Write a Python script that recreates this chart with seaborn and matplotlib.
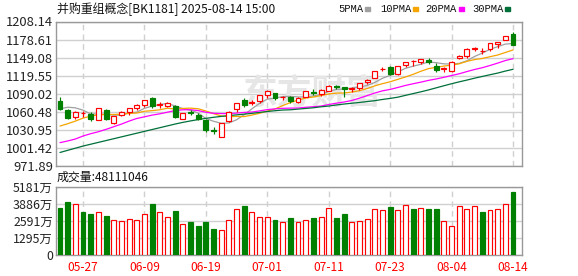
import numpy as np
import pandas as pd
import matplotlib
matplotlib.use("Agg")
import matplotlib.pyplot as plt
import seaborn as sns
from matplotlib.patches import Rectangle

# ---------------- data ----------------
dates = ["05-22", "05-23", "05-26", "05-27", "05-28", "05-29", "05-30", "06-03", "06-04", "06-05",
         "06-06", "06-09", "06-10", "06-11", "06-12", "06-13", "06-16", "06-17", "06-18", "06-19",
         "06-20", "06-23", "06-24", "06-25", "06-26", "06-27", "06-30", "07-01", "07-02", "07-03",
         "07-04", "07-07", "07-08", "07-09", "07-10", "07-11", "07-14", "07-15", "07-16", "07-17",
         "07-18", "07-21", "07-22", "07-23", "07-24", "07-25", "07-28", "07-29", "07-30", "07-31",
         "08-01", "08-04", "08-05", "08-06", "08-07", "08-08", "08-11", "08-12", "08-13", "08-14"]

opens = [1077.8, 1064.2, 1052.3, 1058.5, 1057.2, 1047.4, 1064.2, 1042.0, 1055.1, 1059.4,
         1067.0, 1071.9, 1083.3, 1072.0, 1069.7, 1070.3, 1049.0, 1059.8, 1055.3, 1047.7,
         1030.0, 1020.0, 1044.7, 1064.4, 1079.6, 1075.5, 1077.8, 1087.6, 1090.8, 1084.0,
         1084.4, 1076.7, 1085.5, 1093.5, 1089.9, 1095.3, 1102.0, 1100.8, 1097.5, 1098.6,
         1108.9, 1115.8, 1130.0, 1134.2, 1122.8, 1137.4, 1143.5, 1141.3, 1145.7, 1134.8,
         1130.0, 1127.7, 1147.8, 1152.2, 1163.0, 1159.8, 1163.0, 1172.0, 1178.4, 1188.1]
highs = [1085.4, 1065.5, 1061.0, 1061.7, 1060.5, 1066.5, 1065.5, 1054.0, 1061.5, 1067.5,
         1072.5, 1080.5, 1084.0, 1076.8, 1077.0, 1072.0, 1059.0, 1063.0, 1058.0, 1048.0,
         1035.7, 1042.5, 1062.0, 1075.5, 1083.0, 1080.0, 1088.0, 1096.0, 1092.0, 1087.0,
         1087.0, 1084.0, 1095.0, 1097.0, 1097.0, 1104.0, 1105.0, 1101.5, 1101.0, 1108.0,
         1114.0, 1127.0, 1133.7, 1136.0, 1136.0, 1142.0, 1144.5, 1147.0, 1148.0, 1141.0,
         1134.5, 1143.0, 1153.0, 1164.0, 1166.3, 1164.7, 1173.5, 1174.5, 1184.0, 1190.3]
lows = [1063.7, 1049.5, 1048.0, 1051.8, 1045.2, 1046.5, 1047.5, 1041.0, 1054.0, 1055.0,
        1064.0, 1068.0, 1067.0, 1067.0, 1068.0, 1050.5, 1048.0, 1055.0, 1047.0, 1028.0,
        1024.8, 1020.0, 1044.0, 1060.0, 1068.0, 1071.9, 1074.6, 1083.0, 1079.0, 1079.0,
        1075.0, 1075.0, 1084.0, 1088.0, 1086.0, 1094.0, 1097.0, 1084.5, 1093.0, 1096.0,
        1106.0, 1115.0, 1126.6, 1120.0, 1121.0, 1134.0, 1134.8, 1138.0, 1138.0, 1125.6,
        1125.0, 1126.0, 1147.0, 1149.0, 1160.0, 1155.0, 1160.0, 1164.8, 1178.0, 1169.0]
closes = [1065.3, 1050.7, 1060.5, 1059.3, 1048.5, 1065.9, 1048.5, 1052.9, 1059.4, 1067.0,
          1071.9, 1080.0, 1070.8, 1073.0, 1074.6, 1051.8, 1058.3, 1058.5, 1048.8, 1030.3,
          1029.0, 1042.3, 1060.5, 1075.2, 1071.9, 1077.0, 1087.6, 1094.1, 1083.8, 1085.0,
          1077.8, 1083.3, 1094.2, 1092.0, 1096.4, 1102.4, 1101.0, 1097.0, 1099.0, 1107.3,
          1112.7, 1126.6, 1131.0, 1122.8, 1135.8, 1141.8, 1144.0, 1146.7, 1141.9, 1129.4,
          1132.5, 1142.4, 1152.2, 1163.0, 1165.0, 1160.0, 1173.0, 1174.0, 1183.8, 1170.2]

# volume in 万 (10k)
volumes = [3539, 4037, 3838, 3289, 3090, 3289, 2991, 2666, 2591, 2741,
           2666, 3139, 3838, 3289, 2916, 3364, 2317, 2492, 2168, 2492,
           1943, 1919, 2666, 3514, 3688, 3289, 2916, 2916, 2692, 2492,
           2791, 2467, 2692, 2791, 2916, 3589, 2791, 3090, 2467, 2617,
           2766, 3514, 3439, 3614, 3439, 3813, 3514, 3589, 3514, 3464,
           2542, 2168, 3738, 3514, 3738, 3240, 3439, 3514, 3888, 4811.1]
vol_rise = [0, 0, 1, 0, 0, 1, 0, 1, 1, 1,
            1, 1, 0, 1, 1, 0, 1, 0, 0, 0,
            0, 1, 1, 1, 0, 1, 1, 1, 0, 1,
            0, 1, 1, 0, 1, 1, 0, 0, 1, 1,
            1, 1, 1, 0, 1, 1, 0, 1, 0, 0,
            1, 1, 1, 1, 1, 0, 1, 1, 1, 0]

ma5 = [1065.3, 1068.0, 1067.0, 1063.2, 1056.9, 1057.0, 1056.5, 1055.0, 1055.0, 1058.7,
       1059.9, 1066.2, 1069.8, 1072.5, 1074.1, 1070.0, 1065.7, 1063.2, 1058.4, 1049.5,
       1045.0, 1041.8, 1042.2, 1047.5, 1055.8, 1065.4, 1074.4, 1081.2, 1082.9, 1085.5,
       1085.7, 1084.8, 1084.8, 1086.5, 1088.7, 1093.7, 1097.2, 1097.8, 1099.2, 1101.3,
       1103.4, 1108.5, 1115.3, 1120.1, 1125.8, 1131.6, 1135.1, 1138.2, 1142.0, 1140.8,
       1138.9, 1138.6, 1139.7, 1143.9, 1151.0, 1156.5, 1162.6, 1167.0, 1171.2, 1172.2]
ma10 = [1037.2, 1041.0, 1045.3, 1050.2, 1053.4, 1055.6, 1056.1, 1056.1, 1056.7, 1057.8,
        1058.5, 1061.4, 1062.4, 1063.8, 1066.4, 1065.0, 1066.0, 1066.5, 1065.5, 1061.8,
        1057.5, 1053.7, 1052.7, 1052.9, 1052.7, 1055.2, 1058.1, 1061.7, 1065.2, 1070.6,
        1075.5, 1079.6, 1083.0, 1084.7, 1087.1, 1089.7, 1091.0, 1091.3, 1092.8, 1095.0,
        1098.5, 1102.9, 1106.5, 1109.6, 1113.6, 1117.5, 1121.8, 1126.8, 1131.1, 1133.3,
        1135.3, 1136.8, 1139.0, 1143.0, 1145.9, 1147.7, 1150.6, 1153.3, 1157.5, 1161.6]
ma20 = [1010.1, 1012.8, 1016.0, 1020.9, 1024.7, 1027.9, 1031.8, 1036.1, 1040.4, 1045.3,
        1049.6, 1052.3, 1055.1, 1057.2, 1059.9, 1062.6, 1063.8, 1063.9, 1062.5, 1059.8,
        1058.0, 1057.6, 1057.6, 1058.4, 1059.5, 1060.1, 1062.0, 1064.1, 1065.3, 1066.2,
        1066.5, 1066.7, 1067.9, 1068.8, 1069.9, 1072.4, 1074.6, 1076.5, 1079.0, 1082.8,
        1087.0, 1091.2, 1094.8, 1097.1, 1100.3, 1103.6, 1106.4, 1109.0, 1111.9, 1114.2,
        1116.9, 1119.8, 1122.7, 1126.3, 1129.7, 1132.6, 1136.2, 1140.1, 1144.3, 1147.4]
ma30 = [994.0, 997.5, 1001.0, 1004.5, 1007.5, 1010.5, 1013.5, 1016.5, 1019.5, 1022.5,
        1025.5, 1028.5, 1031.5, 1034.5, 1037.5, 1040.5, 1043.2, 1045.6, 1047.8, 1049.8,
        1051.5, 1053.0, 1054.3, 1055.5, 1056.7, 1058.0, 1059.5, 1061.0, 1062.3, 1063.4,
        1063.8, 1064.9, 1066.0, 1067.1, 1068.7, 1069.9, 1071.7, 1073.2, 1074.5, 1075.8,
        1077.2, 1078.7, 1080.7, 1082.4, 1084.4, 1087.4, 1090.3, 1093.2, 1096.3, 1099.7,
        1103.1, 1106.4, 1109.5, 1112.4, 1115.5, 1118.3, 1121.1, 1123.8, 1127.1, 1130.0]

x_tick_labels = ["05-27", "06-09", "06-19", "07-01", "07-11", "07-23", "08-04", "08-14"]
price_ticks = [971.89, 1001.42, 1030.95, 1060.48, 1090.02, 1119.55, 1149.08, 1178.61, 1208.14]
vol_ticks = [0, 1295.3, 2590.6, 3885.9, 5181.2]
vol_tick_labels = ["0", "1295万", "2591万", "3886万", "5181万"]
title = "并购重组概念[BK1181] 2025-08-14 15:00"
vol_title = "成交量:48111046"
ma_names = ["5PMA", "10PMA", "20PMA", "30PMA"]

# ---------------- style ----------------
sns.set_theme(style="white")
plt.rcParams['font.family'] = ['Noto Sans CJK SC', 'DejaVu Sans']

RED = "#ff0000"
GREEN = "#008000"
ma_colors = {"5PMA": "#a0a0a0", "10PMA": "#f5a400", "20PMA": "#ff00ff", "30PMA": "#00703a"}
GRID = "#d0d0d0"
SPINE = "#999999"
TXT = "#222222"

W, H = 578, 276
fig = plt.figure(figsize=(W / 100, H / 100), dpi=100)
fig.patch.set_facecolor("white")


def fx(px):
    return px / W


def fy(py):
    return 1 - py / H


ax = fig.add_axes([fx(56), fy(166), fx(522) - fx(56), fy(21.5) - fy(166)])
axv = fig.add_axes([fx(56), fy(255), fx(522) - fx(56), fy(186.7) - fy(255)])

n = len(dates)
xs = np.arange(n)
pos = [dates.index(d) for d in x_tick_labels]

# watermark
ax.text(fx(312), fy(93), "东方财富", transform=fig.transFigure, fontsize=25,
        color="#e6e6e6", ha="center", va="center", zorder=0.6, fontweight="bold")

# moving averages through seaborn
df = pd.DataFrame({
    "x": np.tile(xs, 4),
    "v": np.concatenate([ma5, ma10, ma20, ma30]),
    "ma": np.repeat(ma_names, n),
})
sns.lineplot(data=df, x="x", y="v", hue="ma", palette=ma_colors, ax=ax,
             legend=False, linewidth=0.9, zorder=2, estimator=None)

# candles
o = np.array(opens)
c = np.array(closes)
up = c >= o
body_bottom = np.minimum(o, c)
body_h = np.maximum(np.abs(c - o), 0.45)
edge = [RED if u else GREEN for u in up]
face = ["white" if u else GREEN for u in up]
ax.vlines(xs, lows, highs, colors=edge, linewidth=0.85, zorder=3)
ax.bar(xs, body_h, bottom=body_bottom, width=0.64, color=face, edgecolor=edge,
       linewidth=0.85, zorder=4)

# volume
vr = np.array(vol_rise).astype(bool)
axv.bar(xs, volumes, width=0.64,
        color=["white" if r else GREEN for r in vr],
        edgecolor=[RED if r else GREEN for r in vr], linewidth=0.85, zorder=3)

# axes styling
for a in (ax, axv):
    a.set_xlim(-0.52, 60.17)
    a.set_xticks(pos)
    a.xaxis.grid(True, color=GRID, linestyle=(0, (4, 3)), linewidth=1.0)
    a.yaxis.grid(True, color=GRID, linestyle="-", linewidth=1.0)
    a.set_axisbelow(True)
    for s in a.spines.values():
        s.set_color(SPINE)
        s.set_linewidth(1.0)
    a.set_xlabel("")
    a.set_ylabel("")
    a.tick_params(length=0, pad=2.2, labelsize=8.6, colors=TXT)

ax.set_ylim(price_ticks[0], price_ticks[-1])
ax.set_yticks(price_ticks)
ax.set_yticklabels([f"{t:.2f}" for t in price_ticks])
ax.tick_params(axis="y", labelsize=9.3)
ax.tick_params(axis="x", labelbottom=False)

axv.set_ylim(0, vol_ticks[-1])
axv.set_yticks(vol_ticks)
axv.set_yticklabels(vol_tick_labels)
axv.tick_params(axis="y", labelsize=8.9)
axv.set_xticklabels(x_tick_labels)
axv.tick_params(axis="x", colors=RED, pad=4)

# titles
fig.text(fx(57), fy(9), title, ha="left", va="center", fontsize=8.6, color="#111111")
fig.text(fx(57), fy(177), vol_title, ha="left", va="center", fontsize=8.6, color="#111111")

# legend
leg_text_x = [338, 380, 425, 472]
leg_box_x = [365, 413, 459, 505]
for name, tx, bx in zip(ma_names, leg_text_x, leg_box_x):
    fig.text(fx(tx), fy(9), name, ha="left", va="center", fontsize=7.6,
             color="#111111", family=["Liberation Mono", "DejaVu Sans Mono"])
    fig.add_artist(Rectangle((fx(bx), fy(10.5)), 5 / W, 4 / H,
                             transform=fig.transFigure, color=ma_colors[name]))

fig.savefig("out.png", dpi=100, facecolor="white")
